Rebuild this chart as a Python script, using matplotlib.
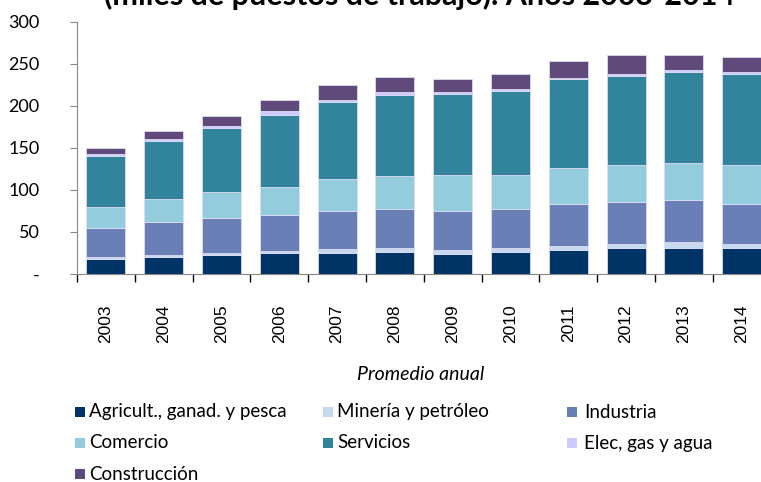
import numpy as np
import matplotlib.pyplot as plt
from matplotlib.patches import Rectangle

years = ['2003', '2004', '2005', '2006', '2007', '2008', '2009',
         '2010', '2011', '2012', '2013', '2014']

# miles de puestos de trabajo
agricultura = [18.2, 20.2, 22.6, 24.6, 24.6, 26.6, 24.2, 26.6, 28.9, 31.3, 31.3, 31.3]
mineria = [2.4, 2.4, 2.4, 2.4, 4.8, 4.7, 4.4, 4.4, 4.4, 4.4, 6.4, 4.4]
industria = [34.5, 39.7, 41.3, 43.6, 46.0, 46.1, 46.4, 46.4, 50.4, 50.4, 50.8, 48.0]
comercio = [24.7, 26.6, 31.3, 33.4, 37.7, 39.6, 42.5, 40.1, 42.5, 44.0, 44.0, 46.4]
servicios = [61.0, 69.8, 76.6, 85.7, 92.1, 96.5, 96.4, 100.8, 105.6, 106.0, 108.0, 108.0]
elec = [2.4, 2.4, 2.4, 4.3, 2.3, 2.8, 2.4, 2.3, 1.9, 2.4, 2.4, 2.4]
construccion = [6.8, 8.7, 11.5, 13.5, 17.5, 17.8, 15.5, 17.9, 19.9, 21.8, 17.4, 17.5]

series = [agricultura, mineria, industria, comercio, servicios, elec, construccion]
labels = ['Agricult., ganad. y pesca', 'Minería y petróleo', 'Industria',
          'Comercio', 'Servicios', 'Elec, gas y agua', 'Construcción']
colors = ['#003366', '#c6d9f0', '#6a7fb5', '#93cddd', '#31849b', '#ccccff', '#604a7b']

fig = plt.figure(figsize=(7.61, 4.82), dpi=100)
W, H = 761, 482
ax = fig.add_axes([77 / W, (H - 274) / H, 693.6 / W, 252 / H])

x = np.arange(len(years))
bottom = np.zeros(len(years))
for vals, c, lab in zip(series, colors, labels):
    ax.bar(x, vals, 0.675, bottom=bottom, color=c, edgecolor='#dcdcf2',
           linewidth=0.6, label=lab)
    bottom += np.array(vals)

ax.set_xlim(-0.5, len(years) - 0.5)
ax.set_ylim(0, 300)
ax.set_yticks(range(0, 301, 50))
ax.set_yticklabels(['-', '50', '100', '150', '200', '250', '300'],
                   family='Lato', fontsize=13)
ax.tick_params(axis='y', length=5, color='#888888', pad=22)

ax.set_xticks(x)
ax.set_xticklabels(years, rotation=90, family='Liberation Sans', fontsize=12.5)
ax.tick_params(axis='x', length=0, pad=22)
ax.set_xticks(np.arange(-0.5, len(years), 1), minor=True)
ax.tick_params(axis='x', which='minor', length=6, color='black', width=1)

for s in ['top', 'right']:
    ax.spines[s].set_visible(False)
ax.spines['left'].set_color('#888888')
ax.spines['bottom'].set_color('#888888')

fig.text(421 / W, 1 - 375 / H, 'Promedio anual', family='Lato', style='italic',
         fontsize=14, ha='center', va='center')

# the title is cut by the top edge in the original too
fig.text(420 / W, 1 - 5 / H, '(miles de puestos de trabajo). Años 2003-2014',
         family='Lato', weight='bold', fontsize=22, ha='center', va='baseline')

# legend drawn by hand, three columns like the original
col_x = [75, 323, 567]
text_x = [89, 337, 584]
row_y = [412, 443, 474]
for i, (lab, c) in enumerate(zip(labels, colors)):
    r, k = divmod(i, 3)
    fig.patches.append(Rectangle((col_x[k] / W, 1 - (row_y[r] + 5) / H), 10 / W, 10 / H,
                                 transform=fig.transFigure, facecolor=c, edgecolor='none'))
    fig.text(text_x[k] / W, 1 - row_y[r] / H, lab, family='Lato', fontsize=13.5,
             ha='left', va='center')

fig.savefig('out.png', dpi=100)
